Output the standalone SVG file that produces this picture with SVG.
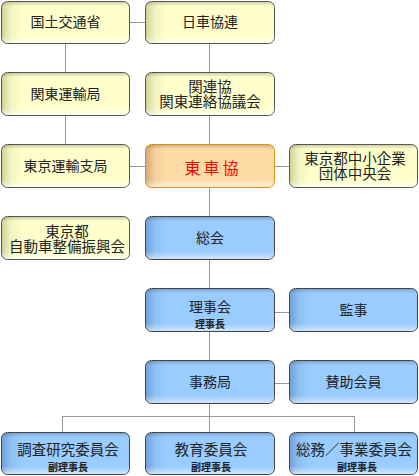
<svg xmlns="http://www.w3.org/2000/svg" width="419" height="476" viewBox="0 0 419 476">
<defs>
<linearGradient id="gy" x1="0" y1="0" x2="1" y2="0">
<stop offset="0" stop-color="#cfcf98"/><stop offset="0.07" stop-color="#f2f2c0"/><stop offset="0.16" stop-color="#ffffcc"/><stop offset="1" stop-color="#ffffcc"/>
</linearGradient>
<linearGradient id="gb" x1="0" y1="0" x2="1" y2="0">
<stop offset="0" stop-color="#6f9fd6"/><stop offset="0.07" stop-color="#8dbff2"/><stop offset="0.16" stop-color="#99ccff"/><stop offset="1" stop-color="#99ccff"/>
</linearGradient>
<linearGradient id="go" x1="0" y1="0" x2="1" y2="0">
<stop offset="0" stop-color="#d4a870"/><stop offset="0.07" stop-color="#f5cf98"/><stop offset="0.16" stop-color="#ffdba6"/><stop offset="1" stop-color="#ffdba6"/>
</linearGradient>
<linearGradient id="gv" x1="0" y1="0" x2="0" y2="1">
<stop offset="0" stop-color="#000" stop-opacity="0.18"/><stop offset="0.1" stop-color="#000" stop-opacity="0"/><stop offset="0.82" stop-color="#fff" stop-opacity="0"/><stop offset="1" stop-color="#fff" stop-opacity="0.55"/>
</linearGradient>
</defs>
<style>
.y{fill:url(#gy);stroke:#555;stroke-width:1}
.b{fill:url(#gb);stroke:#444;stroke-width:1}
.o{fill:url(#go);stroke:#e0900c;stroke-width:1}
.v{fill:url(#gv);stroke:none}
text{font-family:"Noto Sans CJK JP","Noto Sans",sans-serif;fill:#222;text-anchor:middle}
.t{font-size:14px}
.m{font-size:14.5px}
.s{font-size:10px;font-weight:bold}
.r{font-size:16px;fill:#ff0000;letter-spacing:3px}
.c{stroke:#999;stroke-width:1;fill:none}
</style>
<g id="connectors">
<path class="c" d="M129.5 22.5H145.5M65.5 43V145M209.5 43V361M129.5 166.5H145.5M274 166.5H289.5M274 312.5H289.5M274 383.5H289.5M209.5 403V416.5M62.5 416.5H354.5M62.5 416V433M209.5 416V433M354.5 416V433"/>
</g>
<g id="n1"><rect class="y" x="1.5" y="1.5" width="128" height="42" rx="6"/><rect class="v" x="2" y="2" width="127" height="41" rx="5.5"/><text class="t" x="65.5" y="27">国土交通省</text></g>
<g id="n2"><rect class="y" x="145.5" y="1.5" width="129" height="42" rx="6"/><rect class="v" x="146" y="2" width="128" height="41" rx="5.5"/><text class="t" x="210" y="27">日車協連</text></g>
<g id="n3"><rect class="y" x="1.5" y="72.5" width="128" height="43" rx="6"/><rect class="v" x="2" y="73" width="127" height="42" rx="5.5"/><text class="t" x="65.5" y="99">関東運輸局</text></g>
<g id="n4"><rect class="y" x="145.5" y="72.5" width="129" height="43" rx="6"/><rect class="v" x="146" y="73" width="128" height="42" rx="5.5"/><text class="m"><tspan x="210" y="92">関連協</tspan><tspan x="210" y="107">関東連絡協議会</tspan></text></g>
<g id="n5"><rect class="y" x="1.5" y="144.5" width="128" height="43" rx="6"/><rect class="v" x="2" y="145" width="127" height="42" rx="5.5"/><text class="t" x="65.5" y="171">東京運輸支局</text></g>
<g id="n6"><rect class="o" x="145.5" y="144.5" width="129" height="43" rx="6"/><rect class="v" x="146" y="145" width="128" height="42" rx="5.5"/><text class="r" x="213" y="174">東車協</text></g>
<g id="n7"><rect class="y" x="289.5" y="144.5" width="128" height="43" rx="6"/><rect class="v" x="290" y="145" width="127" height="42" rx="5.5"/><text class="m"><tspan x="355" y="164">東京都中小企業</tspan><tspan x="355" y="179">団体中央会</tspan></text></g>
<g id="n8"><rect class="y" x="1.5" y="216.5" width="128" height="43" rx="6"/><rect class="v" x="2" y="217" width="127" height="42" rx="5.5"/><text class="m"><tspan x="67" y="237">東京都</tspan><tspan x="67" y="252">自動車整備振興会</tspan></text></g>
<g id="n9"><rect class="b" x="145.5" y="216.5" width="129" height="43" rx="6"/><rect class="v" x="146" y="217" width="128" height="42" rx="5.5"/><text class="t" x="210" y="243">総会</text></g>
<g id="n10"><rect class="b" x="145.5" y="288.5" width="129" height="43" rx="6"/><rect class="v" x="146" y="289" width="128" height="42" rx="5.5"/><text class="t" x="210" y="312">理事会</text><text class="s" x="210" y="327.5">理事長</text></g>
<g id="n11"><rect class="b" x="289.5" y="288.5" width="128" height="43" rx="6"/><rect class="v" x="290" y="289" width="127" height="42" rx="5.5"/><text class="t" x="353.5" y="315">監事</text></g>
<g id="n12"><rect class="b" x="145.5" y="360.5" width="129" height="43" rx="6"/><rect class="v" x="146" y="361" width="128" height="42" rx="5.5"/><text class="t" x="210" y="387">事務局</text></g>
<g id="n13"><rect class="b" x="289.5" y="360.5" width="128" height="43" rx="6"/><rect class="v" x="290" y="361" width="127" height="42" rx="5.5"/><text class="t" x="353.5" y="387">賛助会員</text></g>
<g id="n14"><rect class="b" x="1.5" y="432.5" width="128" height="42" rx="6"/><rect class="v" x="2" y="433" width="127" height="41" rx="5.5"/><text class="m" x="68" y="455">調査研究委員会</text><text class="s" x="68" y="470.5">副理事長</text></g>
<g id="n15"><rect class="b" x="145.5" y="432.5" width="129" height="42" rx="6"/><rect class="v" x="146" y="433" width="128" height="41" rx="5.5"/><text class="m" x="211" y="455">教育委員会</text><text class="s" x="211" y="470.5">副理事長</text></g>
<g id="n16"><rect class="b" x="289.5" y="432.5" width="128" height="42" rx="6"/><rect class="v" x="290" y="433" width="127" height="41" rx="5.5"/><text class="m" x="354" y="455">総務／事業委員会</text><text class="s" x="357" y="470.5">副理事長</text></g>
</svg>
